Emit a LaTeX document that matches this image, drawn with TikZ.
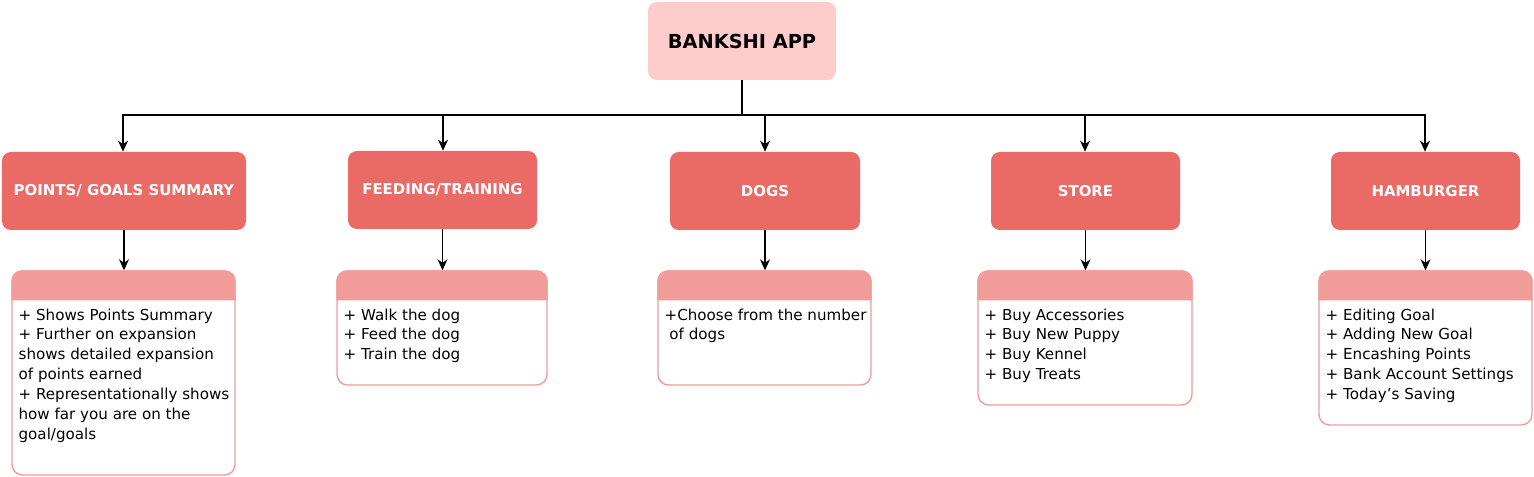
\documentclass[tikz,border=0pt]{standalone}
\usepackage{fontspec}
\setmainfont{DejaVu Sans}
\usetikzlibrary{positioning,arrows.meta}
\definecolor{toppink}{HTML}{FFCCCC}
\definecolor{catred}{HTML}{EA6B66}
\definecolor{hdrpink}{HTML}{F19C99}
\tikzset{>={Stealth[width=2mm,length=2.2mm]}}

\begin{document}
\begin{tikzpicture}
    \tikzstyle{tnode} = [fill=toppink, rounded corners=5pt, minimum width=3.76cm, minimum height=1.56cm, font=\bfseries\fontsize{11}{13}\selectfont]
    \tikzstyle{cnode} = [fill=catred, rounded corners=5pt, minimum height=1.56cm, text=white, font=\bfseries\fontsize{8.5}{10}\selectfont]
    \tikzstyle{dnode} = [draw=hdrpink, thick, fill=white, rounded corners=6pt, minimum height=2.28cm]
    \tikzstyle{hdr} = [fill=hdrpink, rounded corners=6pt]
    \tikzstyle{txt} = [anchor=north west, align=left, inner sep=0pt, font=\fontsize{8.6}{11.3}\selectfont]
    \tikzstyle{arr} = [thick, ->]
    \useasboundingbox (0,0) rectangle (30.68,-9.54);

    \node[tnode] (app) at (14.84,-0.82) {BANKSHI APP};

    \node[cnode, minimum width=4.88cm] (c1) at (2.48,-3.82) {POINTS/ GOALS SUMMARY};
    \node[cnode, minimum width=3.78cm] (c2) at (8.85,-3.80) {FEEDING/TRAINING};
    \node[cnode, minimum width=3.80cm] (c3) at (15.30,-3.82) {DOGS};
    \node[cnode, minimum width=3.78cm] (c4) at (21.71,-3.82) {STORE};
    \node[cnode, minimum width=3.78cm] (c5) at (28.51,-3.82) {HAMBURGER};

    \node[dnode, minimum width=4.46cm, minimum height=4.08cm] (d1) at (2.47,-7.46) {};
    \node[dnode, minimum width=4.20cm] (d2) at (8.84,-6.56) {};
    \node[dnode, minimum width=4.26cm] (d3) at (15.29,-6.56) {};
    \node[dnode, minimum width=4.28cm, minimum height=2.68cm] (d4) at (21.70,-6.76) {};
    \node[dnode, minimum width=4.26cm, minimum height=3.08cm] (d5) at (28.51,-6.96) {};

    % header bands
    \foreach \d in {d1,d2,d3,d4,d5}
        \fill[hdr] ([yshift=-0.6cm]\d.north west) |- (\d.north east) [sharp corners] -- ([yshift=-0.6cm]\d.north east) -- cycle;

    \node[txt] (t1) at ([shift={(0.14,-0.76)}]d1.north west) {+ Shows Points Summary\\+ Further on expansion\\shows detailed expansion\\of points earned\\+ Representationally shows\\how far you are on the\\goal/goals};
    \node[txt] (t2) at ([shift={(0.14,-0.76)}]d2.north west) {+ Walk the dog\\+ Feed the dog\\+ Train the dog};
    \node[txt] (t3) at ([shift={(0.14,-0.76)}]d3.north west) {+Choose from the number\\\ of dogs};
    \node[txt] (t4) at ([shift={(0.14,-0.76)}]d4.north west) {+ Buy Accessories\\+ Buy New Puppy\\+ Buy Kennel\\+ Buy Treats};
    \node[txt] (t5) at ([shift={(0.14,-0.76)}]d5.north west) {+ Editing Goal\\+ Adding New Goal\\+ Encashing Points\\+ Bank Account Settings\\+ Today's Saving};

    % bus
    \coordinate (bus) at (14.84,-2.30);
    \foreach \c/\x in {c1/2.46,c2/8.86,c3/15.30,c4/21.70,c5/28.50}
        \draw[arr] (app.south) -- (bus) -| (\x,-2.30) -- (\c.north -| \x,0);

    \foreach \c/\d in {c1/d1,c2/d2,c3/d3,c4/d4,c5/d5}
        \draw[arr] (\c.south) -- (\d.north -| \c.south);
\end{tikzpicture}
\end{document}
